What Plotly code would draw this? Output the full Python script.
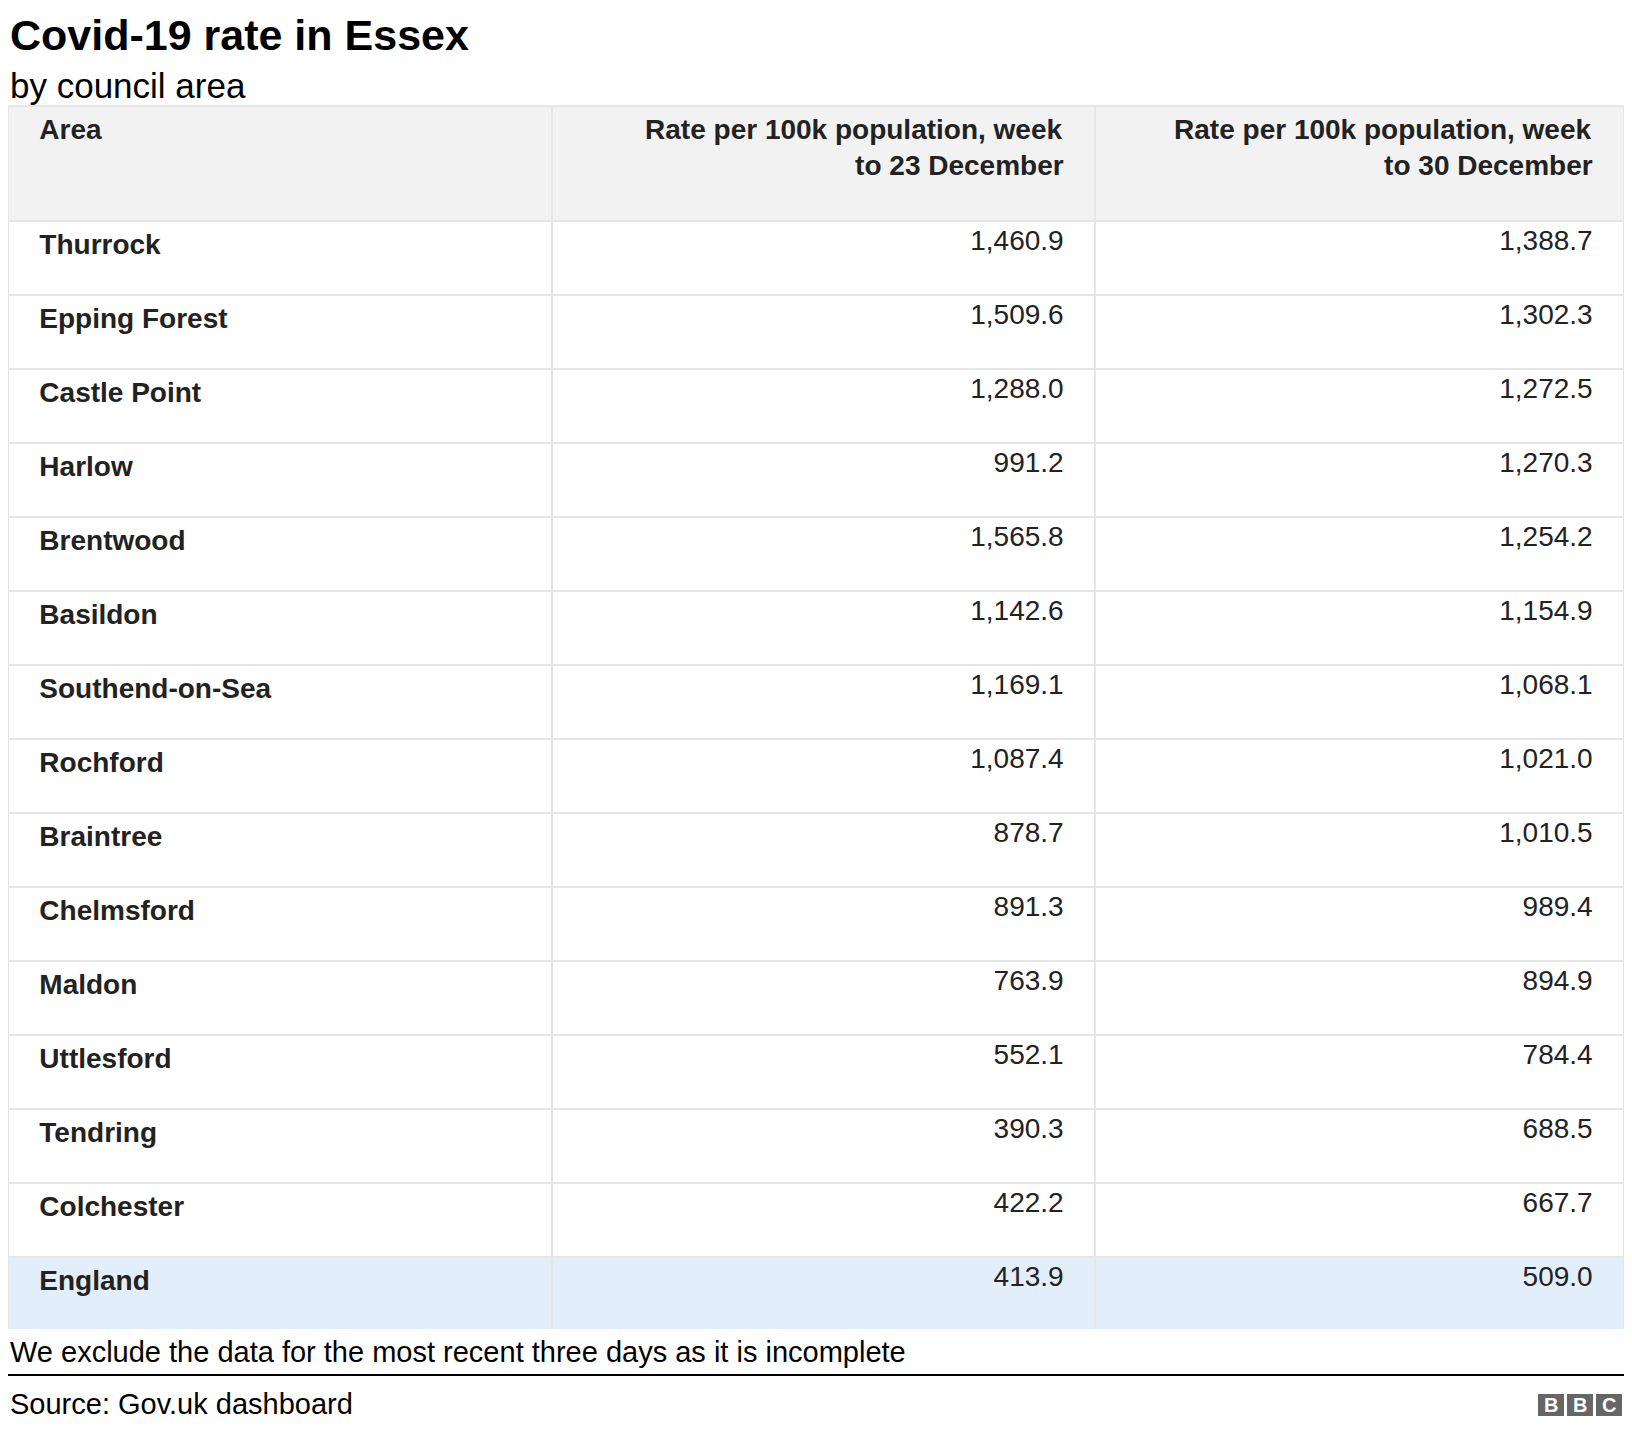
import plotly.graph_objects as go

W, H = 1616, 1414
OFF = 8
areas = ["Thurrock","Epping Forest","Castle Point","Harlow","Brentwood","Basildon","Southend-on-Sea",
         "Rochford","Braintree","Chelmsford","Maldon","Uttlesford","Tendring","Colchester","England"]
rate_23 = [1460.9,1509.6,1288.0,991.2,1565.8,1142.6,1169.1,1087.4,878.7,891.3,763.9,552.1,390.3,422.2,413.9]
rate_30 = [1388.7,1302.3,1272.5,1270.3,1254.2,1154.9,1068.1,1021.0,1010.5,989.4,894.9,784.4,688.5,667.7,509.0]
headers = ["Area","Rate per 100k population, week","to 23 December","Rate per 100k population, week","to 30 December"]

def py(px):
    return 1 - (px - OFF) / H

NB = "\u00a0\u00a0\u00a0"
PAD2 = "\u00a0" * 27
fills = ["#ffffff"] * (len(areas) - 1) + ["#e2effa"]
font = "Liberation Sans, Arial, sans-serif"

fig = go.Figure(go.Table(
    domain=dict(x=[0, 1], y=[py(1329), py(106)]),
    columnwidth=[544, 543, 529],
    header=dict(values=[NB + f"<b>{headers[0]}</b>",
                        f"<b>{headers[1]}</b>" + NB + "<br>" + PAD2 + f"<b>{headers[2]}</b>" + NB,
                        f"<b>{headers[3]}</b>" + NB + "<br>" + PAD2 + f"<b>{headers[4]}</b>" + NB],
                align=["left", "right", "right"], height=115,
                fill_color="#f2f2f2", line=dict(color="#e6e6e6", width=2),
                font=dict(family=font, size=28, color="#222222")),
    cells=dict(values=[[NB + f"<b>{a}</b>" for a in areas],
                       [f"{v:,.1f}" + NB for v in rate_23],
                       [f"{v:,.1f}" + NB for v in rate_30]],
               align=["left", "right", "right"], height=74,
               fill_color=[fills] * 3, line=dict(color="#e6e6e6", width=2),
               font=dict(family=font, size=28, color="#222222")),
))

ann = [
    dict(text="<b>Covid-19 rate in Essex</b>", y=35, size=43),
    dict(text="by council area", y=85, size=35),
    dict(text="We exclude the data for the most recent three days as it is incomplete", y=1352, size=29),
    dict(text="Source: Gov.uk dashboard", y=1404, size=29),
]
annotations = [dict(text=a["text"], x=0, y=py(a["y"]), xref="paper", yref="paper",
                    xanchor="left", yanchor="middle", showarrow=False,
                    font=dict(family=font, size=a["size"], color="#000000")) for a in ann]
shapes = [dict(type="line", xref="paper", yref="paper", x0=0, x1=1, y0=py(1375), y1=py(1375),
               line=dict(color="#000000", width=2))]
for i, letter in enumerate("BBC"):
    x0 = 1530 + i * 29
    shapes.append(dict(type="rect", xref="paper", yref="paper", x0=x0 / W, x1=(x0 + 26) / W,
                       y0=py(1416), y1=py(1394), fillcolor="#666666", line=dict(width=0)))
    annotations.append(dict(text=f"<b>{letter}</b>", x=(x0 + 13) / W, y=py(1405), xref="paper", yref="paper",
                            showarrow=False, xanchor="center", yanchor="middle",
                            font=dict(family=font, size=20, color="#ffffff")))

fig.update_layout(width=W, height=H, margin=dict(l=0, r=0, t=0, b=0),
                  paper_bgcolor="white", annotations=annotations, shapes=shapes)
fig.write_html("out.html")
